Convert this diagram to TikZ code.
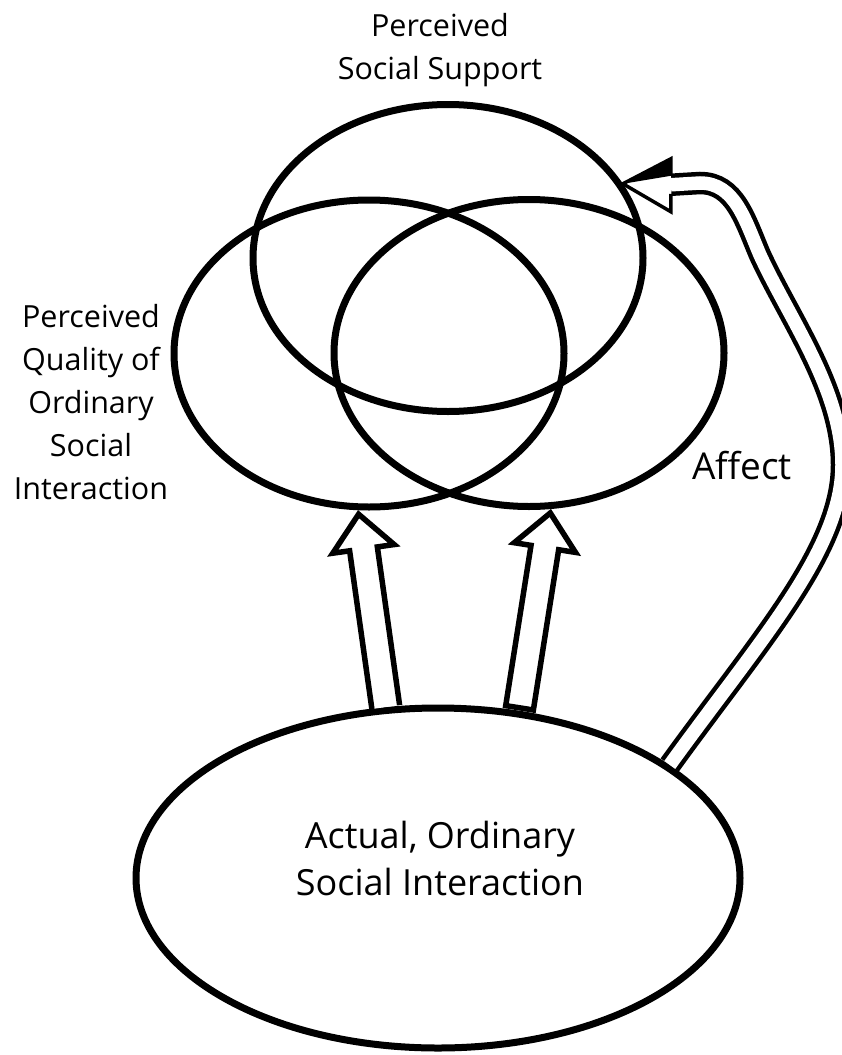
\documentclass[tikz,border=0pt]{standalone}
\usepackage{fontspec}
\setmainfont{Open Sans}
\usetikzlibrary{shapes.geometric,calc}
\begin{document}
\begin{tikzpicture}[x=1pt,y=-1pt,
  ring/.style={draw, ellipse, line width=7pt, inner sep=0pt,
    minimum width=390pt, minimum height=307pt},
  blockarrow/.style={draw, fill=white, line width=5.5pt, line join=miter},
  flowline/.style={draw, line width=4.5pt, double=white, double distance=13.5pt},
  headline/.style={draw, line width=3.5pt, line join=miter},
  lbl/.style={align=center, inner sep=0pt, font=\fontsize{30.5}{43}\selectfont}]
\useasboundingbox (0,0) rectangle (842,1055);

% the three overlapping constructs and the base construct
\node[ring] (pss) at (448,258) {};
\node[ring] (pq)  at (369,353.5) {};
\node[ring] (aff) at (529,353) {};
\node[ring, minimum width=604pt, minimum height=340pt] (aosi) at (438,878) {};

% labels
\node[lbl] (pssText) at (440,50) {Perceived\\Social Support};
\node[lbl] (pqText) at (91,402) {Perceived\\Quality of\\Ordinary\\Social\\Interaction};
\node[lbl, font=\fontsize{37}{44}\selectfont] (affText) at (742,466) {Affect};
\node[lbl, font=\fontsize{36}{47}\selectfont] (aosiText) at (440,858) {Actual, Ordinary\\Social Interaction};

% block arrow into the left ellipse (open at its base)
\coordinate (b1) at (aosi.107);
\coordinate (t1) at ($(pq.266)!4pt!(b1)$);
\coordinate (h1) at ($(t1)!35pt!(b1)$);
\filldraw[blockarrow] ($(b1)!14pt!90:(t1)$) -- ($(h1)!14pt!90:(t1)$)
  -- ($(h1)!31pt!90:(t1)$) -- (t1) -- ($(h1)!31pt!-90:(t1)$)
  -- ($(h1)!14pt!-90:(t1)$) -- ($(b1)!14pt!-90:(t1)$);

% block arrow into the right ellipse
\coordinate (b2) at ($(aosi.64)+(0,-3)$);
\coordinate (t2) at ($(aff.278)!4pt!(b2)$);
\coordinate (h2) at ($(t2)!35pt!(b2)$);
\filldraw[blockarrow] ($(b2)!14pt!90:(t2)$) -- ($(h2)!14pt!90:(t2)$)
  -- ($(h2)!31pt!90:(t2)$) -- (t2) -- ($(h2)!31pt!-90:(t2)$)
  -- ($(h2)!14pt!-90:(t2)$) -- ($(b2)!14pt!-90:(t2)$) -- cycle;

% curved double-lined arrow from the base construct to the top ellipse
\coordinate (ct) at (aosi.26);
\coordinate (ah) at (pss.23.6);
\coordinate (hb) at ($(ah)+(48,1)$);
\draw[flowline] (ct) .. controls (760,640) and (842,550) .. (842,465)
  .. controls (842,390) and (790,320) .. (760,255)
  .. controls (745,220) and (735,183) .. (700,183) -- (hb);
\fill[white] ($(hb)+(0,-9)$) -- ($(hb)+(0,-26)$) -- (ah) -- ($(hb)+(0,27)$) -- ($(hb)+(0,9)$) -- cycle;
\draw[headline] ($(hb)+(0,-9)$) -- ($(hb)+(0,-26)$) -- (ah) -- ($(hb)+(0,27)$) -- ($(hb)+(0,9)$);
\fill (ah) -- ($(hb)+(0,-26)$) -- ($(hb)+(0,-9)$) -- cycle;
\end{tikzpicture}
\end{document}
